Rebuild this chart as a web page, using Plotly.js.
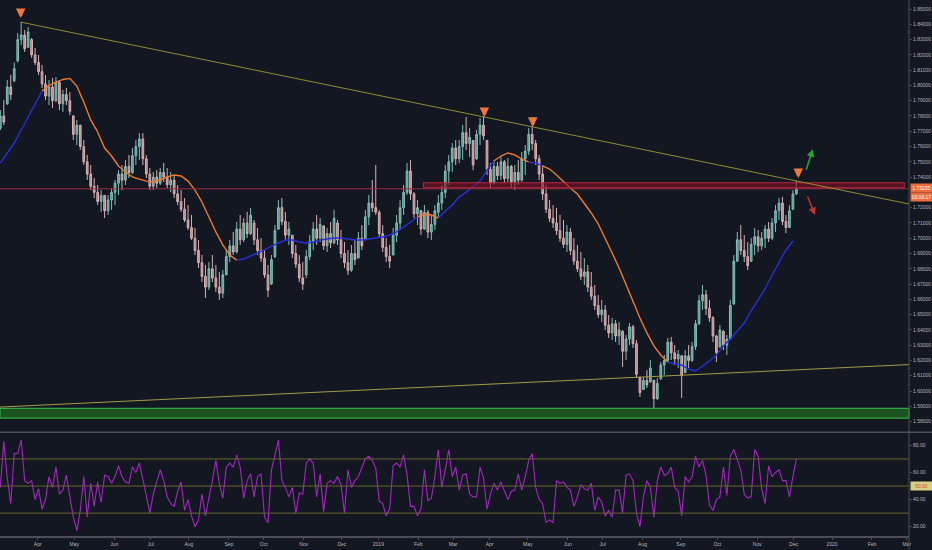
<!DOCTYPE html>
<html><head><meta charset="utf-8">
<script src="https://cdn.plot.ly/plotly-3.0.1.min.js"></script>
<style>html,body{margin:0;padding:0;background:#131722;}#chart{width:932px;height:550px;}</style>
</head><body><div id="chart"></div>
<script>
// ---- data (2-trading-day candles starting 2018-03-01) ----
const startDate = '2018-03-01';
const openP = [
1.7720,1.7800,1.7880,1.7990,1.8030,1.8160,1.8300,1.8330,1.8250,1.8300,
1.8200,1.8150,1.8090,1.8010,1.7930,1.7990,1.7900,1.8020,1.7880,1.7940,
1.7900,1.7800,1.7680,1.7740,1.7600,1.7500,1.7420,1.7340,1.7300,1.7240,
1.7280,1.7180,1.7250,1.7300,1.7360,1.7420,1.7380,1.7470,1.7430,1.7540,
1.7600,1.7650,1.7520,1.7420,1.7340,1.7400,1.7360,1.7430,1.7400,1.7350,
1.7380,1.7290,1.7240,1.7190,1.7120,1.7070,1.7000,1.6920,1.6840,1.6750,
1.6680,1.6800,1.6740,1.6680,1.6640,1.6760,1.6880,1.6950,1.6910,1.7060,
1.6990,1.7100,1.7030,1.7100,1.6990,1.6920,1.6870,1.6760,1.6700,1.6880,
1.7060,1.7200,1.7110,1.7020,1.7020,1.6900,1.6830,1.6740,1.6760,1.6880,
1.6980,1.7060,1.7000,1.7080,1.6950,1.7030,1.6970,1.7100,1.6990,1.6900,
1.6840,1.6790,1.6900,1.6870,1.7000,1.6990,1.7140,1.7230,1.7200,1.7170,
1.7030,1.6940,1.6880,1.6890,1.7020,1.7100,1.7200,1.7300,1.7440,1.7290,
1.7160,1.7180,1.7060,1.7170,1.7040,1.7090,1.7170,1.7230,1.7300,1.7440,
1.7500,1.7590,1.7520,1.7600,1.7690,1.7620,1.7640,1.7520,1.7680,1.7740,
1.7640,1.7450,1.7360,1.7470,1.7410,1.7500,1.7390,1.7470,1.7370,1.7430,
1.7380,1.7520,1.7570,1.7680,1.7620,1.7520,1.7420,1.7290,1.7190,1.7130,
1.7100,1.7050,1.7000,1.6960,1.7040,1.6920,1.6850,1.6800,1.6750,1.6780,
1.6680,1.6620,1.6560,1.6500,1.6530,1.6430,1.6380,1.6440,1.6360,1.6390,
1.6260,1.6340,1.6420,1.6310,1.6090,1.6010,1.6070,1.6060,1.6070,1.5950,
1.6080,1.6170,1.6200,1.6320,1.6250,1.6210,1.6230,1.6120,1.6230,1.6200,
1.6290,1.6440,1.6590,1.6630,1.6540,1.6480,1.6360,1.6290,1.6390,1.6300,
1.6340,1.6570,1.6850,1.6990,1.6920,1.6880,1.6850,1.6960,1.7010,1.6950,
1.7000,1.7060,1.7000,1.7100,1.7180,1.7230,1.7110,1.7070,1.7190,1.7290];
const highP = [
1.7839,1.7904,1.8035,1.8068,1.8150,1.8343,1.8415,1.8363,1.8382,1.8310,
1.8245,1.8199,1.8134,1.8068,1.8035,1.8048,1.8055,1.8030,1.7970,1.7983,
1.7957,1.7806,1.7774,1.7741,1.7643,1.7545,1.7479,1.7394,1.7348,1.7315,
1.7283,1.7283,1.7328,1.7381,1.7446,1.7479,1.7512,1.7545,1.7590,1.7643,
1.7688,1.7688,1.7545,1.7459,1.7433,1.7446,1.7459,1.7492,1.7459,1.7433,
1.7407,1.7348,1.7315,1.7263,1.7217,1.7152,1.7067,1.6988,1.6890,1.6825,
1.6844,1.6890,1.6825,1.6779,1.6792,1.6923,1.6988,1.7041,1.7106,1.7152,
1.7132,1.7172,1.7198,1.7119,1.7067,1.7001,1.6923,1.6825,1.6890,1.7086,
1.7250,1.7263,1.7172,1.7106,1.7021,1.6956,1.6890,1.6844,1.6923,1.7021,
1.7106,1.7152,1.7132,1.7086,1.7067,1.7106,1.7185,1.7119,1.7054,1.6975,
1.6923,1.6956,1.6988,1.7041,1.7086,1.7185,1.7283,1.7381,1.7479,1.7185,
1.7086,1.7001,1.6956,1.7067,1.7152,1.7250,1.7348,1.7492,1.7512,1.7302,
1.7250,1.7185,1.7217,1.7185,1.7152,1.7217,1.7283,1.7348,1.7479,1.7545,
1.7623,1.7643,1.7643,1.7741,1.7793,1.7721,1.7643,1.7708,1.7787,1.7800,
1.7643,1.7492,1.7512,1.7499,1.7531,1.7512,1.7525,1.7479,1.7479,1.7512,
1.7564,1.7610,1.7721,1.7734,1.7643,1.7545,1.7479,1.7348,1.7250,1.7217,
1.7198,1.7152,1.7119,1.7086,1.7067,1.7001,1.6956,1.6910,1.6870,1.6825,
1.6779,1.6694,1.6628,1.6596,1.6563,1.6497,1.6478,1.6465,1.6452,1.6399,
1.6367,1.6445,1.6432,1.6334,1.6092,1.6092,1.6137,1.6203,1.6072,1.6085,
1.6190,1.6236,1.6347,1.6354,1.6301,1.6268,1.6236,1.6268,1.6301,1.6321,
1.6465,1.6628,1.6694,1.6661,1.6596,1.6490,1.6367,1.6432,1.6399,1.6367,
1.6596,1.6890,1.7041,1.7086,1.7021,1.6975,1.7001,1.7067,1.7054,1.7041,
1.7086,1.7106,1.7132,1.7217,1.7263,1.7270,1.7152,1.7217,1.7315,1.7375];
const lowP = [
1.7708,1.7741,1.7872,1.7904,1.8020,1.8150,1.8264,1.8219,1.8245,1.8180,
1.8134,1.8068,1.7983,1.7904,1.7872,1.7852,1.7890,1.7839,1.7826,1.7872,
1.7806,1.7643,1.7610,1.7577,1.7479,1.7381,1.7315,1.7263,1.7217,1.7172,
1.7132,1.7152,1.7185,1.7217,1.7283,1.7315,1.7348,1.7394,1.7420,1.7479,
1.7512,1.7479,1.7394,1.7315,1.7315,1.7328,1.7348,1.7368,1.7328,1.7302,
1.7263,1.7217,1.7172,1.7106,1.7054,1.6988,1.6890,1.6805,1.6713,1.6609,
1.6661,1.6713,1.6648,1.6596,1.6609,1.6759,1.6844,1.6890,1.6900,1.6956,
1.6975,1.7001,1.7021,1.6956,1.6890,1.6844,1.6739,1.6615,1.6694,1.6870,
1.7054,1.7086,1.6988,1.6956,1.6870,1.6805,1.6713,1.6661,1.6739,1.6857,
1.6923,1.6956,1.6975,1.6923,1.6910,1.6936,1.6960,1.6956,1.6870,1.6805,
1.6759,1.6780,1.6825,1.6870,1.6923,1.6988,1.7086,1.7172,1.7152,1.7001,
1.6910,1.6844,1.6805,1.6890,1.6975,1.7054,1.7152,1.7283,1.7250,1.7132,
1.7086,1.7021,1.7054,1.7001,1.6988,1.7054,1.7132,1.7185,1.7263,1.7348,
1.7433,1.7479,1.7492,1.7512,1.7577,1.7531,1.7446,1.7512,1.7610,1.7643,
1.7414,1.7328,1.7350,1.7381,1.7381,1.7361,1.7368,1.7328,1.7315,1.7348,
1.7370,1.7414,1.7545,1.7577,1.7479,1.7381,1.7250,1.7165,1.7106,1.7067,
1.7021,1.6975,1.6936,1.6910,1.6890,1.6825,1.6779,1.6726,1.6694,1.6648,
1.6596,1.6530,1.6478,1.6452,1.6399,1.6347,1.6334,1.6321,1.6301,1.6157,
1.6203,1.6301,1.6282,1.6085,1.5961,1.6007,1.6020,1.6053,1.5876,1.5941,
1.6072,1.6105,1.6190,1.6203,1.6170,1.6150,1.5954,1.6124,1.6150,1.6190,
1.6268,1.6432,1.6530,1.6497,1.6452,1.6321,1.6190,1.6282,1.6268,1.6236,
1.6334,1.6563,1.6844,1.6890,1.6844,1.6792,1.6844,1.6890,1.6910,1.6923,
1.6936,1.6975,1.6988,1.7041,1.7119,1.7086,1.7034,1.7067,1.7185,1.7283];
const closeP = [
1.7800,1.7760,1.7990,1.7940,1.8110,1.8300,1.8330,1.8240,1.8350,1.8200,
1.8150,1.8090,1.8010,1.7930,1.7990,1.7900,1.8020,1.7880,1.7940,1.7900,
1.7830,1.7680,1.7740,1.7600,1.7500,1.7420,1.7340,1.7300,1.7240,1.7280,
1.7180,1.7250,1.7300,1.7360,1.7420,1.7380,1.7470,1.7430,1.7540,1.7600,
1.7650,1.7520,1.7420,1.7340,1.7400,1.7360,1.7430,1.7400,1.7350,1.7380,
1.7290,1.7240,1.7190,1.7120,1.7070,1.7000,1.6920,1.6840,1.6750,1.6680,
1.6800,1.6740,1.6680,1.6640,1.6760,1.6880,1.6950,1.6910,1.7060,1.6990,
1.7100,1.7030,1.7150,1.6990,1.6920,1.6870,1.6760,1.6660,1.6860,1.7050,
1.7200,1.7110,1.7020,1.7060,1.6900,1.6830,1.6740,1.6700,1.6880,1.6980,
1.7060,1.7000,1.7090,1.6950,1.7030,1.6970,1.7130,1.6990,1.6900,1.6840,
1.6790,1.6900,1.6860,1.7000,1.6950,1.7140,1.7230,1.7200,1.7170,1.7030,
1.6940,1.6880,1.6850,1.7020,1.7100,1.7200,1.7300,1.7440,1.7290,1.7160,
1.7200,1.7060,1.7170,1.7040,1.7090,1.7180,1.7230,1.7300,1.7440,1.7500,
1.7590,1.7520,1.7600,1.7690,1.7620,1.7660,1.7480,1.7680,1.7740,1.7670,
1.7450,1.7360,1.7470,1.7410,1.7500,1.7390,1.7470,1.7370,1.7430,1.7380,
1.7520,1.7570,1.7680,1.7620,1.7520,1.7420,1.7290,1.7190,1.7130,1.7100,
1.7050,1.7000,1.6960,1.7040,1.6920,1.6850,1.6800,1.6750,1.6780,1.6680,
1.6620,1.6560,1.6500,1.6530,1.6430,1.6380,1.6440,1.6360,1.6400,1.6260,
1.6340,1.6420,1.6310,1.6110,1.5990,1.6070,1.6040,1.6150,1.5950,1.6050,
1.6170,1.6200,1.6320,1.6250,1.6210,1.6240,1.6100,1.6230,1.6200,1.6290,
1.6440,1.6590,1.6630,1.6540,1.6480,1.6360,1.6250,1.6400,1.6300,1.6340,
1.6560,1.6850,1.6990,1.6920,1.6880,1.6820,1.6960,1.7010,1.6950,1.7000,
1.7060,1.7000,1.7100,1.7180,1.7230,1.7110,1.7070,1.7180,1.7290,1.73235];
const rsiValues = [
49,83,56,37,74,74,84,54,52,54, 40,48,33,40,57,49,64,44,47,58,
42,27,17,32,57,27,52,35,53,38, 58,57,52,57,65,57,53,52,64,60,
67,56,43,30,44,53,62,54,42,37, 35,46,53,32,40,28,20,25,44,28,
40,54,69,52,41,64,67,64,73,64, 41,54,59,42,57,59,27,23,62,72,
84,54,49,42,49,30,45,44,67,70, 67,42,59,31,52,54,52,57,51,30,
62,49,54,57,64,70,72,69,63,39, 37,28,33,65,67,64,73,58,35,35,
28,33,62,39,41,57,77,49,62,77, 57,64,47,58,59,44,42,42,64,56,
33,44,52,47,53,46,40,46,47,59, 47,57,69,74,49,40,37,23,25,23,
54,52,53,49,47,35,42,51,48,47, 52,32,42,38,28,32,27,47,47,30,
58,59,54,30,20,42,54,49,27,54, 64,58,59,64,49,46,28,57,53,57,
72,64,69,58,36,32,40,42,64,43, 72,77,69,62,44,41,42,77,72,48,
37,65,57,60,62,54,54,42,57,70];
// moving average, one value every 2 candles
const maValues = [
1.7492,1.7558,1.7623,1.7708,1.7793,1.7878,1.7963,1.8000,1.8022,1.8039,
1.8046,1.7996,1.7891,1.7774,1.7695,1.7590,1.7538,1.7473,1.7433,1.7401,
1.7387,1.7374,1.7368,1.7381,1.7401,1.7414,1.7407,1.7374,1.7315,1.7237,
1.7139,1.7041,1.6956,1.6890,1.6857,1.6864,1.6884,1.6903,1.6923,1.6949,
1.6969,1.6988,1.6988,1.6975,1.6969,1.6975,1.6988,1.6995,1.7001,1.7001,
1.6995,1.6988,1.6988,1.6995,1.7001,1.7008,1.7021,1.7041,1.7073,1.7106,
1.7139,1.7158,1.7152,1.7132,1.7178,1.7217,1.7270,1.7302,1.7335,1.7374,
1.7446,1.7505,1.7538,1.7558,1.7545,1.7518,1.7499,1.7492,1.7473,1.7453,
1.7414,1.7368,1.7329,1.7289,1.7230,1.7165,1.7093,1.7001,1.6903,1.6805,
1.6694,1.6582,1.6478,1.6380,1.6295,1.6236,1.6190,1.6177,1.6170,1.6144,
1.6131,1.6164,1.6196,1.6236,1.6295,1.6340,1.6393,1.6445,1.6524,1.6596,
1.6668,1.6759,1.6844,1.6923,1.6982];
const maRuns = [['b',6],['o',28],['b',26],['o',3],['b',8],['o',5],['b',2],['o',18],['b',19]];
// tick labels
const priceTicks = [1.58,1.59,1.60,1.61,1.62,1.63,1.64,1.65,1.66,1.67,1.68,1.69,1.70,1.71,1.72,1.74,1.75,1.76,1.77,1.78,1.79,1.80,1.81,1.82,1.83,1.84,1.85];
const rsiTicks = [20,40,60,80];
const tickDates = ['2018-04-02','2018-05-01','2018-06-01','2018-07-02','2018-08-01','2018-09-03','2018-10-01','2018-11-01','2018-12-03',
  '2019-01-01','2019-02-01','2019-03-01','2019-04-01','2019-05-01','2019-06-03','2019-07-01','2019-08-01','2019-09-02','2019-10-01','2019-11-01','2019-12-02',
  '2020-01-01','2020-02-03','2020-03-02'];
const tickLabels = ['Apr','May','Jun','Jul','Aug','Sep','Oct','Nov','Dec','2019','Feb','Mar','Apr','May','Jun','Jul','Aug','Sep','Oct','Nov','Dec','2020','Feb','Mar'];
// drawings
const upperTrend = {x:['2018-03-19 12:00','2020-03-03 19:00'], y:[1.8415,1.7224]};
const lowerTrend = {x:['2018-03-01 19:30','2020-03-03 19:00'], y:[1.5895,1.6173]};
const redZone = {x:['2019-02-06 10:00','2020-02-28 02:00'], y:[1.7330,1.7363]};
const greenZone = {y:[1.5822,1.5887]};
const lastPrice = 1.73235;
const peakArrows = {x:['2018-03-19 17:00','2019-03-27 12:00','2019-05-06 08:00','2019-12-05 02:00'], y:[1.8441,1.7793,1.7728,1.7394]};
const upArrowTip = {x:'2019-12-17 10:00', y:1.7582};
const downArrowTip = {x:'2019-12-18 17:00', y:1.7152};

// ---- build ----
function barDates(start, n){
  const out=[]; let d=new Date(start+'T00:00:00Z'); let k=0;
  while(out.length<n){
    const wd=d.getUTCDay();
    if(wd!==0 && wd!==6){ if(k%2===1) out.push(d.toISOString().slice(0,10)); k++; }
    d=new Date(d.getTime()+86400000);
  }
  return out;
}
const dates = barDates(startDate, closeP.length);
const maState=[]; maRuns.forEach(([c,n])=>{for(let k=0;k<n;k++) maState.push(c);});
const maX = maValues.map((_,j)=>dates[2*j]);
const pick = c => maValues.map((v,j)=> (maState[j]===c || (j>0 && maState[j-1]===c)) ? v : null);

const traces = [
 {type:'candlestick', x:dates, open:openP, high:highP, low:lowP, close:closeP, xaxis:'x', yaxis:'y',
  increasing:{line:{color:'#80bfb4',width:1}, fillcolor:'#5d9990'},
  decreasing:{line:{color:'#d8b0b0',width:1}, fillcolor:'#b88a8a'},
  whiskerwidth:0, hoverinfo:'skip'},
 {type:'scatter', mode:'lines', x:maX, y:pick('o'), line:{color:'#f07a30',width:1.4}, connectgaps:false, xaxis:'x', yaxis:'y', hoverinfo:'skip'},
 {type:'scatter', mode:'lines', x:maX, y:pick('b'), line:{color:'#2630d8',width:1.4}, connectgaps:false, xaxis:'x', yaxis:'y', hoverinfo:'skip'},
 {type:'scatter', mode:'lines', x:dates, y:rsiValues, line:{color:'#a526c0',width:1.1}, xaxis:'x', yaxis:'y2', hoverinfo:'skip'}
];

const gray='#4a4e59';
const shapes = [
 {type:'rect', xref:'paper', x0:0, x1:1, yref:'y', y0:greenZone.y[0], y1:greenZone.y[1], fillcolor:'#1b5420', line:{color:'#35a843',width:1.2}},
 {type:'line', xref:'x', yref:'y', x0:lowerTrend.x[0], y0:lowerTrend.y[0], x1:lowerTrend.x[1], y1:lowerTrend.y[1], line:{color:'#a29c46',width:1}},
 {type:'line', xref:'paper', x0:0, x1:1, yref:'y', y0:lastPrice, y1:lastPrice, line:{color:'#9a2c3e',width:1}},
 {type:'rect', xref:'x', yref:'y', x0:redZone.x[0], x1:redZone.x[1], y0:redZone.y[0], y1:redZone.y[1], fillcolor:'rgba(130,14,36,0.6)', line:{color:'#b72b3f',width:1}},
 {type:'line', xref:'x', yref:'y', x0:upperTrend.x[0], y0:upperTrend.y[0], x1:upperTrend.x[1], y1:upperTrend.y[1], line:{color:'#8e8e2e',width:1}},
 {type:'line', xref:'paper', yref:'y2', x0:0, x1:1, y0:70, y1:70, line:{color:'#66662a',width:1}},
 {type:'line', xref:'paper', yref:'y2', x0:0, x1:1, y0:50, y1:50, line:{color:'#66662a',width:1}},
 {type:'line', xref:'paper', yref:'y2', x0:0, x1:1, y0:30, y1:30, line:{color:'#66662a',width:1}},
 {type:'line', xref:'paper', yref:'paper', x0:0, x1:1.026, y0:0.1935, y1:0.1935, line:{color:gray,width:1.5}},
 {type:'line', xref:'paper', yref:'paper', x0:1, x1:1, y0:-0.03, y1:1, line:{color:gray,width:1}}
];

const annotations = [];
peakArrows.x.forEach((x,k)=>annotations.push({x:x, y:peakArrows.y[k], xref:'x', yref:'y', text:'', showarrow:true, ax:0, ay:-10, arrowcolor:'#f0773c', arrowwidth:3.5, arrowhead:2, arrowsize:0.55}));
annotations.push({x:upArrowTip.x, y:upArrowTip.y, xref:'x', yref:'y', text:'', showarrow:true, ax:-7, ay:22, arrowcolor:'#26a838', arrowwidth:1.5, arrowhead:2, arrowsize:1});
annotations.push({x:downArrowTip.x, y:downArrowTip.y, xref:'x', yref:'y', text:'', showarrow:true, ax:-8, ay:-20, arrowcolor:'#c4302b', arrowwidth:1.5, arrowhead:2, arrowsize:1});
annotations.push({xref:'paper', x:1, xanchor:'left', xshift:1, yref:'y', y:lastPrice, yshift:1, text:'1.73235', showarrow:false, bgcolor:'#ee6c3a', font:{color:'#ffffff',size:5}, width:21, height:8, borderpad:0});
annotations.push({xref:'paper', x:1, xanchor:'left', xshift:1, yshift:-8, yref:'y', y:lastPrice, text:'03:06:17', showarrow:false, bgcolor:'#ee6c3a', font:{color:'#ffffff',size:5}, width:21, height:8, borderpad:0});
annotations.push({xref:'paper', x:1, xanchor:'left', xshift:1, yref:'y2', y:50, text:'50.00', showarrow:false, bgcolor:'#d8ce84', font:{color:'#d04a1a',size:5}, width:21, height:8, borderpad:0});

const layout = {
 width:932, height:550, paper_bgcolor:'#131722', plot_bgcolor:'#131722',
 margin:{l:0,r:23,t:0,b:14}, showlegend:false,
 font:{family:'Liberation Sans, Arial, sans-serif', size:5, color:'#b2b5be'},
 xaxis:{type:'date', range:['2018-03-01 19:30','2020-03-03 19:00'], rangebreaks:[{bounds:['sat','mon']}],
   rangeslider:{visible:false}, anchor:'y2', tickvals:tickDates.map(d=>d+' 12:00'), ticktext:tickLabels,
   showgrid:false, zeroline:false, showline:true, linecolor:gray, linewidth:1.5, ticks:'outside', ticklen:2, tickcolor:gray,
   tickfont:{size:5,color:'#b2b5be'}, fixedrange:true},
 yaxis:{domain:[0.1978,1], range:[1.5745,1.8559], side:'right', anchor:'x', tickvals:priceTicks, tickformat:'.5f',
   showgrid:false, zeroline:false, showline:false, ticks:'outside', ticklen:2, tickcolor:gray, tickfont:{size:5,color:'#b2b5be'}, fixedrange:true},
 yaxis2:{domain:[0,0.192], range:[13.1,89.1], side:'right', anchor:'x', tickvals:rsiTicks, tickformat:'.2f',
   showgrid:false, zeroline:false, showline:false, ticks:'outside', ticklen:2, tickcolor:gray, tickfont:{size:5,color:'#b2b5be'}, fixedrange:true},
 shapes:shapes, annotations:annotations
};
Plotly.newPlot('chart', traces, layout, {displayModeBar:false, staticPlot:true});
</script></body></html>
